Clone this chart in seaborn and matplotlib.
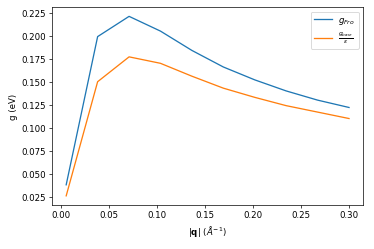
import matplotlib
matplotlib.use("Agg")

import matplotlib.pyplot as plt
import seaborn as sns
import pandas as pd

q = [0.005, 0.0378, 0.0706, 0.1033, 0.1361, 0.1689, 0.2017, 0.2344, 0.2672, 0.300]
g_fro = [0.038, 0.199, 0.221, 0.205, 0.184, 0.166, 0.152, 0.140, 0.130, 0.122]
g_bare_eps = [0.026, 0.150, 0.177, 0.170, 0.156, 0.143, 0.133, 0.124, 0.117, 0.110]

labels = [r"$g_{Fro}$", r"$\frac{g_{bare}}{\epsilon}$"]

df = pd.DataFrame({
    "q": q * 2,
    "g": g_fro + g_bare_eps,
    "series": [labels[0]] * len(q) + [labels[1]] * len(q),
})

fig, ax = plt.subplots(figsize=(6, 4), dpi=62.4)
sns.lineplot(
    data=df, x="q", y="g", hue="series", hue_order=labels,
    palette=["tab:blue", "tab:orange"], ax=ax
)

handles, lbls = ax.get_legend_handles_labels()
ax.legend(handles, lbls)
ax.set_xlabel(r"$|\mathbf{q}|$ ($\AA^{-1}$)")
ax.set_ylabel("g (eV)")

plt.subplots_adjust(left=0.139, right=0.97, top=0.968, bottom=0.177)
plt.savefig("out.png", dpi=62.4)
plt.close()
